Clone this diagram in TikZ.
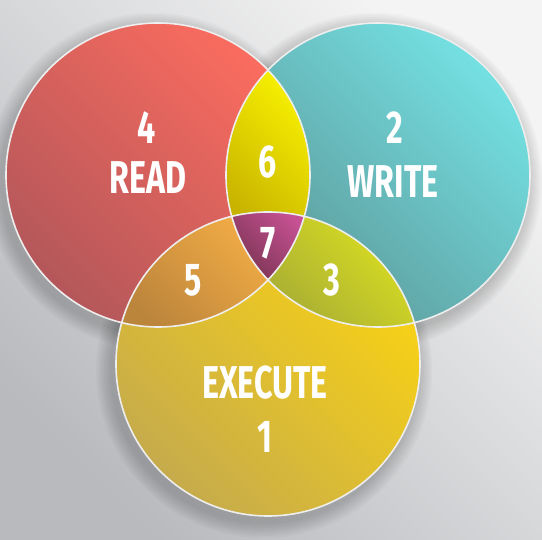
\documentclass[tikz,border=0pt]{standalone}
\usepackage{fontspec}
\setmainfont{Fira Sans}

\definecolor{bgLight}{HTML}{F4F4F4}
\definecolor{bgDark}{HTML}{B8BABE}
\definecolor{readLight}{HTML}{FB6C5F}
\definecolor{readDark}{HTML}{B4575A}
\definecolor{writeLight}{HTML}{74E0E2}
\definecolor{writeDark}{HTML}{5C9596}
\definecolor{execLight}{HTML}{FAD313}
\definecolor{execDark}{HTML}{C6AB4C}
\definecolor{sixLight}{HTML}{FBF500}
\definecolor{sixDark}{HTML}{C8B400}
\definecolor{fiveLight}{HTML}{F9B146}
\definecolor{fiveDark}{HTML}{BC853C}
\definecolor{threeLight}{HTML}{DDE21F}
\definecolor{threeDark}{HTML}{A2A737}
\definecolor{sevenLight}{HTML}{C65194}
\definecolor{sevenDark}{HTML}{75324D}
\definecolor{rimColor}{HTML}{EEEEEE}

\tikzset{
  shadeup/.style 2 args={top color=#1, bottom color=#2, shading angle=-45},
  rim/.style={draw=rimColor, line width=1.6pt},
  label/.style={text=white, font=\bfseries\fontsize{46}{46}\selectfont,
    xscale=0.7, inner sep=0pt},
}

\begin{document}
\begin{tikzpicture}[x=1pt, y=-1pt]
  \useasboundingbox (0,0) rectangle (542,540);
  \shade[shadeup={bgLight}{bgDark}] (0,0) rectangle (542,540);

  % centres of the three sets
  \coordinate (cr) at (158,175);
  \coordinate (cw) at (378,175);
  \coordinate (ce) at (268,364);
  \def\rad{152}

  % soft shadow
  \foreach \c in {cr,cw,ce}
    \foreach \d in {2,4,...,16}
      \fill[black, opacity=0.025] ([shift={(-4,6)}]\c) circle ({\rad+\d});

  % plain circles
  \fill[shadeup={readLight}{readDark}] (cr) circle (\rad);
  \fill[shadeup={writeLight}{writeDark}] (cw) circle (\rad);
  \fill[shadeup={execLight}{execDark}] (ce) circle (\rad);

  % overlaps
  \begin{scope}
    \clip (cr) circle (\rad);
    \clip (cw) circle (\rad);
    \shade[shadeup={sixLight}{sixDark}] (220,60) rectangle (316,230);
  \end{scope}
  \begin{scope}
    \clip (cr) circle (\rad);
    \clip (ce) circle (\rad);
    \shade[shadeup={fiveLight}{fiveDark}] (115,210) rectangle (300,330);
  \end{scope}
  \begin{scope}
    \clip (cw) circle (\rad);
    \clip (ce) circle (\rad);
    \shade[shadeup={threeLight}{threeDark}] (236,210) rectangle (421,330);
  \end{scope}
  \begin{scope}
    \clip (cr) circle (\rad);
    \clip (cw) circle (\rad);
    \clip (ce) circle (\rad);
    \shade[shadeup={sevenLight}{sevenDark}] (228,210) rectangle (308,285);
  \end{scope}

  % rims
  \draw[rim] (cr) circle (\rad);
  \draw[rim] (cw) circle (\rad);
  \draw[rim] (ce) circle (\rad);

  % texts
  \node[label] (n4) at (147,128) {4};
  \node[label] (read) at (148,178) {READ};
  \node[label] (n2) at (395,128) {2};
  \node[label] (write) at (393,182) {WRITE};
  \node[label] (n6) at (268,162) {6};
  \node[label] (n7) at (268,243) {7};
  \node[label] (n5) at (193,280) {5};
  \node[label] (n3) at (332,280) {3};
  \node[label] (exec) at (265,383) {EXECUTE};
  \node[label] (n1) at (265,437) {1};
\end{tikzpicture}
\end{document}
